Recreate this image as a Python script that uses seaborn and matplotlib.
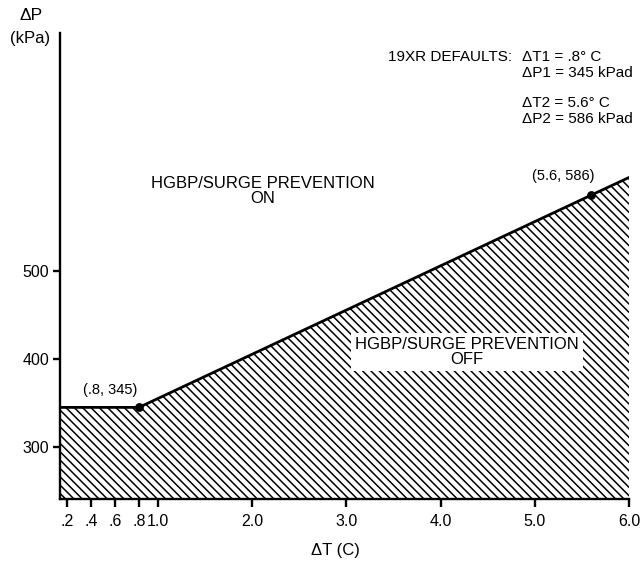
import numpy as np
import matplotlib
matplotlib.use('Agg')
import matplotlib.pyplot as plt
import seaborn as sns

# data
delta_t = [0.0, 0.8, 5.6, 6.0]          # C
delta_p = [345, 345, 586, 606]          # kPa
point_t = [0.8, 5.6]
point_p = [345, 586]
point_labels = ['(.8, 345)', '(5.6, 586)']
x_ticks = [0.2, 0.4, 0.6, 0.8, 1.0, 2.0, 3.0, 4.0, 5.0, 6.0]
x_tick_labels = ['.2', '.4', '.6', '.8', '1.0', '2.0', '3.0', '4.0', '5.0', '6.0']
y_ticks = [300, 400, 500]

sns.set_style('ticks')
plt.rcParams['font.family'] = ['Liberation Sans', 'DejaVu Sans']
plt.rcParams['hatch.linewidth'] = 1.1
for k in ['text.color', 'axes.labelcolor', 'xtick.color', 'ytick.color', 'axes.edgecolor']:
    plt.rcParams[k] = 'black'

W, H = 643, 565
fig = plt.figure(figsize=(W / 100, H / 100), dpi=100)


def fx(px):
    return px / W


def fy(py):
    return 1 - py / H


ax = fig.add_axes([fx(60), fy(499), fx(629) - fx(60), fy(33) - fy(499)])


# below .8 the drawing is stretched
def fwd(x):
    x = np.asarray(x, dtype=float)
    return np.where(x < 0.8, 0.8 + (x - 0.8) * 1.27, x)


def inv(u):
    u = np.asarray(u, dtype=float)
    return np.where(u < 0.8, 0.8 + (u - 0.8) / 1.27, u)


ax.set_xscale('function', functions=(fwd, inv))

ax.fill_between(delta_t, delta_p, 0, facecolor='white', edgecolor='black',
                hatch='\\\\\\\\', linewidth=0)
sns.lineplot(x=delta_t, y=delta_p, ax=ax, color='black', linewidth=2.0,
             sort=False, estimator=None)
sns.scatterplot(x=point_t, y=point_p, ax=ax, color='black', s=34,
                edgecolor='black', zorder=5)

ax.annotate(point_labels[0], (point_t[0], point_p[0]), xytext=(-29, 17),
            textcoords='offset pixels', ha='center', va='center', fontsize=10.5)
ax.annotate(point_labels[1], (point_t[1], point_p[1]), xytext=(-28, 19),
            textcoords='offset pixels', ha='center', va='center', fontsize=10.5)

ax.set_xlim(0.14, 6.0)
ax.set_ylim(241, 770)
ax.set_xticks(x_ticks)
ax.set_xticklabels(x_tick_labels)
ax.set_yticks(y_ticks)
ax.minorticks_off()
ax.set_xlabel('')
ax.set_ylabel('')

sns.despine(ax=ax)
for s in ['left', 'bottom']:
    ax.spines[s].set_linewidth(1.7)
ax.tick_params(axis='x', direction='out', length=6, width=1.7, pad=5, labelsize=11.5)
ax.tick_params(axis='y', direction='out', length=5, width=1.7, pad=3, labelsize=11.5)

fig.text(fx(31), fy(16), 'ΔP', ha='center', va='center', fontsize=12.5)
fig.text(fx(30), fy(38), '(kPa)', ha='center', va='center', fontsize=12)
fig.text(fx(335), fy(551), 'ΔT (C)', ha='center', va='center', fontsize=12)

fig.text(fx(263), fy(191), 'HGBP/SURGE PREVENTION\nON', ha='center', va='center',
         fontsize=12, linespacing=1.0)
fig.text(fx(467), fy(352), 'HGBP/SURGE PREVENTION\nOFF', ha='center', va='center',
         fontsize=12, linespacing=1.05,
         bbox=dict(facecolor='white', edgecolor='none', pad=3))

fig.text(fx(388), fy(57), '19XR DEFAULTS:', ha='left', va='center', fontsize=11)
fig.text(fx(522), fy(57), 'ΔT1 = .8° C', ha='left', va='center', fontsize=11)
fig.text(fx(522), fy(73), 'ΔP1 = 345 kPad', ha='left', va='center', fontsize=11)
fig.text(fx(522), fy(103), 'ΔT2 = 5.6° C', ha='left', va='center', fontsize=11)
fig.text(fx(522), fy(119), 'ΔP2 = 586 kPad', ha='left', va='center', fontsize=11)

plt.savefig('out.png', dpi=100, facecolor='white')
